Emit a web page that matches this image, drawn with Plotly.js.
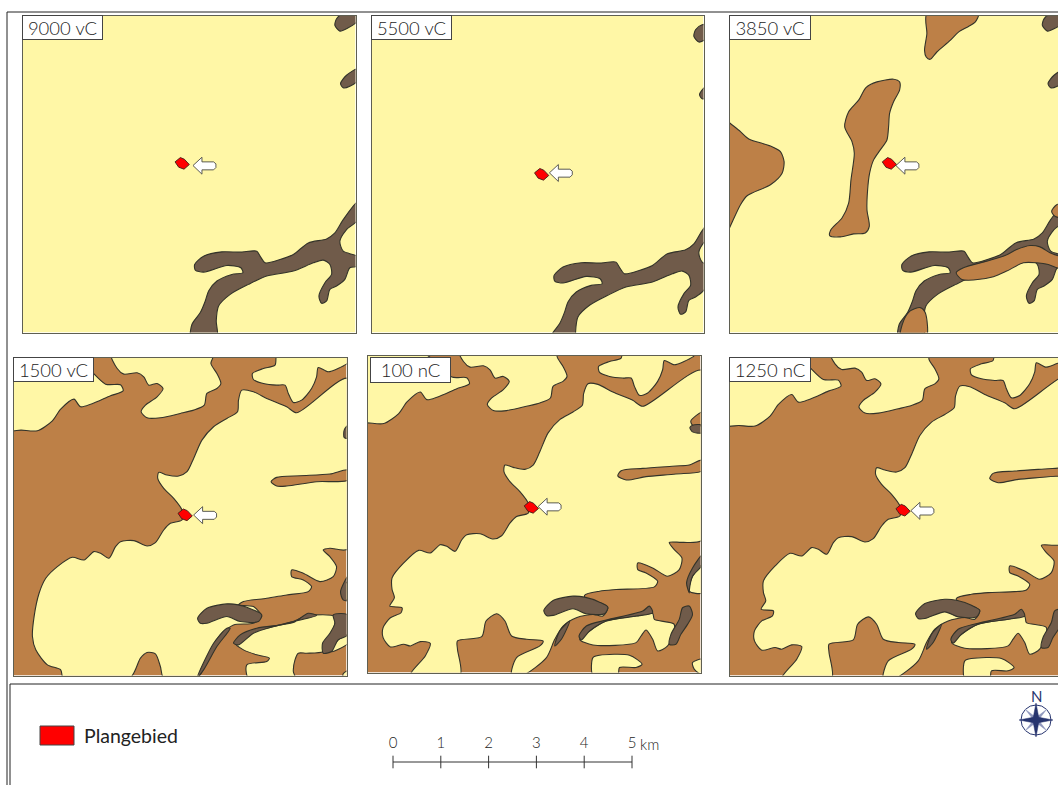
<!DOCTYPE html>
<html><head><meta charset="utf-8">
<script src="https://cdn.plot.ly/plotly-3.0.1.min.js"></script>
<style>html,body{margin:0;padding:0;background:#fff;overflow:hidden}</style>
</head><body><div id="chart" style="width:1058px;height:785px"></div>
<script>
/* ---- map data: all outlines as [x, y], common map units ---- */
const planArea = [[524,486],[540,473],[552,478],[567,494],[551,508],[535,502]];
const arrowMark = [[578,497],[605,472],[605,486],[640,486],[647,492],[647,503],[640,510],[605,510],[605,523]];

const darkMain = [[572,1015],[575,975],[600,940],[615,905],[625,875],[650,845],[695,825],[728,820],[722,805],[680,798],[610,818],[585,812],[583,795],[610,770],[665,757],[720,758],[770,755],[780,770],[795,790],[840,780],[880,765],[925,730],[980,718],[1005,700],[1030,660],[1075,605],[1075,660],[1040,690],[1020,725],[1030,755],[1075,772],[1075,800],[1050,805],[1035,840],[1010,860],[990,870],[980,905],[965,912],[957,890],[975,850],[995,825],[990,795],[970,782],[940,790],[880,815],[800,830],[745,855],[690,885],[655,920],[648,965],[650,1015]];
const darkTop = [[1010,55],[1030,40],[1075,40],[1075,60],[1040,85],[1020,92],[1005,75]];
const darkUpper = [[1075,205],[1040,225],[1022,250],[1030,263],[1050,258],[1075,240]];

/* 3850 vC sand bodies, read in crop units (shifted +38 on x when drawn) */
const sand3850 = [
 [[620,40],[775,40],[765,65],[745,78],[715,95],[690,120],[650,155],[630,177],[618,170],[613,150],[620,100]],
 [[520,237],[538,245],[538,270],[520,305],[508,340],[505,380],[500,420],[480,450],[460,480],[448,520],[442,570],[440,630],[447,680],[435,700],[400,703],[360,712],[328,708],[332,690],[365,655],[385,610],[392,540],[402,460],[395,425],[373,380],[385,335],[415,300],[437,262],[470,245]],
 [[0,345],[27,368],[60,395],[85,417],[150,438],[180,455],[191,485],[185,520],[150,555],[80,588],[60,615],[27,685],[0,740]],
 [[708,820],[730,805],[800,785],[855,768],[890,750],[930,738],[960,742],[990,760],[1020,770],[1060,775],[1060,808],[1020,808],[985,795],[950,790],[910,790],[860,815],[820,832],[760,842],[725,840]],
 [[541,1015],[550,965],[570,935],[600,925],[615,940],[618,1015]],
 [[1060,605],[1010,615],[995,635],[1005,650],[1060,655]]
];

/* late periods: open land inside the sand, crop units of the 1500 vC panel */
const openNW = [[20,30],[230,30],[315,102],[360,104],[368,122],[330,137],[240,170],[220,147],[180,177],[155,212],[110,242],[61,240],[20,240]];
const openN = [[332,10],[350,55],[370,72],[410,68],[430,80],[445,105],[470,100],[488,115],[470,140],[435,165],[422,185],[440,203],[480,203],[540,190],[580,180],[612,165],[620,130],[650,115],[662,100],[650,70],[632,40],[640,10]];
const openNE = [[832,10],[825,45],[790,55],[757,70],[760,88],[790,100],[830,105],[855,105],[865,130],[880,157],[905,150],[935,115],[950,80],[955,52],[985,65],[1040,42],[1045,37],[1045,10]];

const open1500 = [[1045,85],[890,188],[860,170],[800,145],[760,125],[725,120],[715,150],[712,185],[680,205],[640,230],[605,270],[580,325],[560,365],[535,378],[500,375],[475,367],[472,385],[490,415],[520,445],[545,480],[545,510],[510,520],[490,540],[465,578],[440,588],[400,572],[360,575],[345,590],[325,625],[300,610],[280,605],[250,630],[215,622],[170,650],[135,685],[115,730],[100,800],[95,860],[105,900],[140,945],[180,960],[188,985],[388,985],[420,925],[440,908],[465,912],[480,950],[490,985],[590,985],[630,910],[660,855],[700,825],[760,820],[785,800],[760,770],[715,765],[730,755],[800,745],[860,735],[925,725],[935,710],[910,690],[875,680],[875,660],[910,670],[960,695],[1000,680],[1010,650],[990,620],[970,600],[990,595],[1045,597]];
const isles1500 = [
 [[705,880],[760,845],[830,828],[880,815],[915,800],[945,795],[1005,800],[1000,840],[985,870],[970,905],[920,910],[895,910],[885,930],[880,965],[885,985],[745,985],[740,945],[800,935],[808,925],[770,915],[730,900]],
 [[995,905],[1015,870],[1045,855],[1045,880]],
 [[1030,710],[1045,695],[1045,750],[1030,745]],
 [[1030,972],[1045,962],[1045,985],[1030,985]]
];
const finger1500 = [[1045,360],[1045,390],[950,395],[860,408],[830,408],[813,395],[830,382],[900,377],[990,372]];
const dark1500 = [
 [[590,985],[640,880],[680,835],[690,835],[650,890],[610,960]],
 [[700,880],[720,855],[770,835],[880,818],[925,790],[950,797],[880,815],[820,830],[760,850],[715,885]],
 [[1000,795],[1045,795],[1045,855],[1015,870],[995,905],[970,910],[968,880],[990,850],[1005,820]],
 [[1045,678],[1022,725],[1030,750],[1045,752]],
 [[1033,240],[1045,225],[1045,265],[1033,262]]
];

/* crop units of the 100 nC panel */
const open100 = [[1030,60],[850,168],[820,150],[760,125],[715,102],[685,100],[672,130],[668,165],[640,185],[600,208],[565,248],[540,305],[520,345],[495,358],[460,352],[435,345],[432,365],[450,395],[480,425],[505,460],[505,490],[470,500],[450,520],[425,558],[400,568],[360,552],[320,555],[305,570],[285,605],[260,590],[240,585],[210,610],[175,602],[130,640],[95,685],[95,720],[102,745],[88,770],[125,775],[122,790],[90,805],[68,835],[68,865],[90,893],[130,885],[150,890],[180,877],[210,882],[195,920],[150,978],[300,978],[292,900],[292,875],[365,862],[378,815],[410,793],[435,815],[455,860],[500,870],[550,875],[540,890],[470,925],[455,978],[490,978],[560,925],[585,870],[610,830],[650,805],[700,795],[730,800],[745,775],[720,760],[680,755],[675,737],[720,725],[770,720],[885,712],[895,695],[860,670],[835,660],[835,640],[880,655],[925,680],[960,660],[968,625],[945,600],[930,578],[970,578],[1030,570]];
const isles100 = [
 [[660,870],[690,845],[740,815],[830,800],[880,792],[885,810],[945,825],[925,890],[895,905],[880,870],[860,842],[845,860],[830,880],[700,887]],
 [[700,978],[700,925],[720,918],[810,918],[848,945],[830,955],[780,955],[775,978]],
 [[1000,940],[1030,930],[1030,978],[1005,960]],
 [[990,725],[1000,680],[1030,645],[1030,730]]
];
const finger100 = [[1030,330],[1030,362],[950,372],[860,380],[800,390],[775,378],[785,362],[850,355],[950,348],[990,345]];
const dark100 = [
 [[585,890],[600,845],[630,815],[605,870]],
 [[658,860],[680,830],[740,812],[850,785],[870,770],[880,790],[830,800],[740,815],[690,845],[665,872]],
 [[930,885],[935,855],[960,810],[970,775],[990,770],[1000,795],[985,825],[965,855],[950,885]],
 [[1030,615],[1000,655],[982,700],[990,730],[990,725],[1000,680],[1030,645]],
 [[1030,225],[1030,248],[1000,245],[992,232],[1000,225]]
];
const sandRight100 = [[1030,185],[995,212],[1000,225],[1030,225]];
const darkBlob = [[583,801],[611,771],[671,758],[706,761],[751,776],[776,791],[766,811],[711,811],[671,796],[611,816],[591,816]];

/* ---- panels ---- */
const panelNames = ["9000 vC","5500 vC","3850 vC","1500 vC","100 nC","1250 nC"];
const panelBoxes = [[22,356,15,333],[371,704,15,333],[729,1058,15,333],[13,347,357,676],[367,701,355,673],[729,1058,357,676]];
const panelWindows = [[65,1067,45,1000],[32,1034,12,967],[65,1052,45,1000],[29,1031,18,973],[52,1055,33,988],[24,1011,32,987]];
const labelBoxes = [[22,103,15,40],[371,452,15,40],[729,811,15,40],[13,94,357,382],[370,451,357,383],[729,811,357,382]];
const arrowShift = [[0,0],[-9,-11],[-13,0],[-7,-6],[-12,-9],[-9,-5]];

/* ---- legend / scale / compass ---- */
const legendName = "Plangebied";
const scaleKm = [0,1,2,3,4,5];
const scaleUnit = "km";
const compassMain = [[0,1],[0.16,0.16],[1,0],[0.16,-0.16],[0,-1],[-0.16,-0.16],[-1,0],[-0.16,0.16]];
const compassDiag = [[0.62,0.62],[0.14,0],[0.62,-0.62],[0,-0.14],[-0.62,-0.62],[-0.14,0],[-0.62,0.62],[0,0.14]];

/* ---- colours ---- */
const YELLOW="#fff7a6", SAND="#bd8047", PEAT="#705b4a", EDGE="#33332a", NAVY="#28356f";
const THIN="Lato Light, Lato";

const W=1058,H=785, traces=[];
const shift=(pts,dx,dy)=>pts.map(p=>[p[0]+dx,p[1]+dy]);
function poly(i,pts,color,opt){
  opt=opt||{};
  const c=pts.concat([pts[0]]);
  traces.push({type:"scatter",mode:"lines",xaxis:i?"x"+(i+1):"x",yaxis:i?"y"+(i+1):"y",
    x:c.map(p=>p[0]),y:c.map(p=>p[1]),fill:"toself",fillcolor:color,hoverinfo:"skip",showlegend:false,
    line:{color:opt.edge||EDGE,width:opt.width==null?1.1:opt.width,shape:opt.sharp?"linear":"spline",smoothing:0.75}});
}
function rect(i,w,color){
  poly(i,[[w[0],w[2]],[w[1],w[2]],[w[1],w[3]],[w[0],w[3]]],color,{sharp:true,edge:color,width:0});
}
const P4=[-9,-4], P5=[31,18];
panelNames.forEach((n,i)=>{
  const w=panelWindows[i];
  if(i<3){
    rect(i,w,YELLOW);
    poly(i,darkMain,PEAT);poly(i,darkTop,PEAT);poly(i,darkUpper,PEAT);
    if(i===2) sand3850.forEach(s=>poly(i,shift(s,38,0),SAND));
  } else {
    rect(i,w,SAND);
    [openNW,openN,openNE].forEach(s=>poly(i,shift(s,P4[0],P4[1]),YELLOW));
    if(i===3){
      poly(i,shift(open1500,P4[0],P4[1]),YELLOW);
      isles1500.forEach(s=>poly(i,shift(s,P4[0],P4[1]),YELLOW));
      poly(i,shift(finger1500,P4[0],P4[1]),SAND);
      dark1500.forEach(s=>poly(i,shift(s,P4[0],P4[1]),PEAT));
    } else {
      poly(i,shift(open100,P5[0],P5[1]),YELLOW);
      isles100.forEach(s=>poly(i,shift(s,P5[0],P5[1]),YELLOW));
      poly(i,shift(finger100,P5[0],P5[1]),SAND);
      poly(i,shift(sandRight100,P5[0],P5[1]),SAND);
      dark100.forEach(s=>poly(i,shift(s,P5[0],P5[1]),PEAT));
    }
    poly(i,darkBlob,PEAT);
  }
  poly(i,planArea,"#ff0000",{sharp:true,edge:"#40201a",width:0.9});
  poly(i,shift(arrowMark,arrowShift[i][0],arrowShift[i][1]),"#ffffff",{sharp:true,edge:"#4a4a44",width:0.9});
});

const layout={width:W,height:H,margin:{l:0,r:0,t:0,b:0},paper_bgcolor:"#fff",plot_bgcolor:"#fff",showlegend:false,annotations:[],shapes:[]};
const bare={showgrid:false,zeroline:false,showticklabels:false,ticks:"",fixedrange:true};
panelBoxes.forEach((b,i)=>{
  const k=i?i+1:"", w=panelWindows[i];
  layout["xaxis"+k]=Object.assign({},bare,{domain:[(b[0]+0.5)/W,(b[1]-(i===2||i===5?0:0.5))/W],range:[w[0],w[1]],anchor:"y"+k,showline:true,mirror:true,linecolor:"#5f5f52",linewidth:1});
  layout["yaxis"+k]=Object.assign({},bare,{domain:[1-(b[3]-0.5)/H,1-(b[2]+0.5)/H],range:[w[3],w[2]],anchor:"x"+k,showline:true,mirror:true,linecolor:"#5f5f52",linewidth:1});
  const l=labelBoxes[i];
  layout.annotations.push({xref:"paper",yref:"paper",x:l[0]/W,y:1-l[2]/H,xanchor:"left",yanchor:"top",text:panelNames[i],showarrow:false,
    width:l[1]-l[0]-2,height:l[3]-l[2]-2,bgcolor:"#fff",bordercolor:"#444",borderwidth:1,borderpad:0,align:"center",valign:"middle",
    font:{family:THIN,size:18.5,color:"#1c1c1c",weight:300}});
});

/* scale bar subplot */
traces.push({type:"scatter",mode:"lines+markers",xaxis:"x7",yaxis:"y7",x:scaleKm,y:scaleKm.map(()=>0),cliponaxis:false,hoverinfo:"skip",
  line:{color:"#333",width:1},marker:{symbol:"line-ns",size:9,line:{color:"#333",width:1},color:"#333"}});
traces.push({type:"scatter",mode:"text",xaxis:"x7",yaxis:"y7",x:scaleKm,y:scaleKm.map(()=>1.75),text:scaleKm.map(String),cliponaxis:false,hoverinfo:"skip",
  textposition:"middle center",textfont:{family:THIN,size:15,color:"#1c1c1c",weight:300}});
layout.xaxis7=Object.assign({},bare,{domain:[393/W,632/W],range:[0,5],anchor:"y7",visible:false});
layout.yaxis7=Object.assign({},bare,{domain:[1-772/H,1-732/H],range:[-1,3],anchor:"x7",visible:false});
layout.annotations.push({xref:"x7",yref:"y7",x:5,y:1.75,xanchor:"left",yanchor:"middle",xshift:6,yshift:1,text:scaleUnit,showarrow:false,font:{family:THIN,size:15,color:"#1c1c1c",weight:300}});

/* compass subplot */
function star(pts,color){const c=pts.concat([pts[0]]);traces.push({type:"scatter",mode:"lines",xaxis:"x8",yaxis:"y8",x:c.map(p=>p[0]),y:c.map(p=>p[1]),fill:"toself",fillcolor:color,line:{color:color,width:0.5},hoverinfo:"skip"});}
traces.push({type:"scatter",mode:"markers",xaxis:"x8",yaxis:"y8",x:[0],y:[0],hoverinfo:"skip",marker:{symbol:"circle-open",size:30,color:NAVY,line:{color:NAVY,width:1}}});
star(compassDiag,"#8f97bd");star(compassMain,NAVY);
layout.xaxis8=Object.assign({},bare,{domain:[1019/W,1053/W],range:[-1,1],anchor:"y8",visible:false});
layout.yaxis8=Object.assign({},bare,{domain:[1-737/H,1-703/H],range:[-1,1],anchor:"x8",visible:false});
layout.annotations.push({xref:"paper",yref:"paper",x:1036/W,y:1-696/H,xanchor:"center",yanchor:"middle",text:"N",showarrow:false,font:{family:"Lato",size:15,color:NAVY}});

/* legend entry + frames */
layout.shapes.push({type:"rect",xref:"paper",yref:"paper",x0:40/W,x1:74/W,y0:1-726/H,y1:1-745/H,fillcolor:"#ff0000",line:{color:"#444",width:1}});
layout.annotations.push({xref:"paper",yref:"paper",x:82/W,y:1-735.5/H,xanchor:"left",yanchor:"middle",text:legendName,showarrow:false,font:{family:"Lato",size:19.5,color:"#222"}});
[[7,12,7,790],[7,12,1060,12],[10,684,1060,684],[10,684,10,790]].forEach(s=>layout.shapes.push({type:"line",xref:"paper",yref:"paper",x0:s[0]/W,x1:s[2]/W,y0:1-s[1]/H,y1:1-s[3]/H,line:{color:"#222",width:1}}));

Plotly.newPlot("chart",traces,layout,{staticPlot:true,displayModeBar:false});
</script></body></html>
